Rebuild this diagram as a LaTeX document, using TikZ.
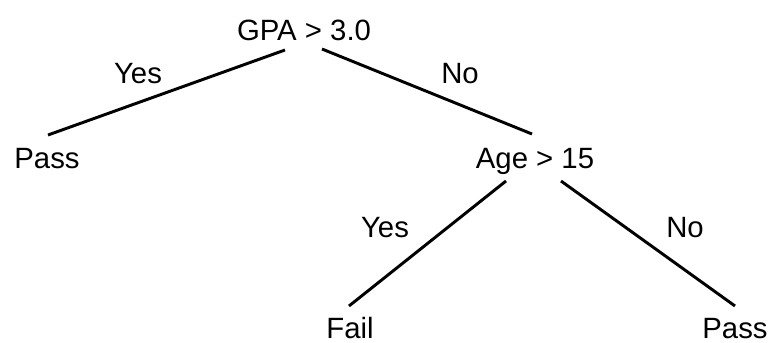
\documentclass[tikz,border=0pt]{standalone}
\usepackage{fontspec}
\setmainfont{Liberation Sans}
\usetikzlibrary{calc}

\begin{document}
\begin{tikzpicture}[x=0.75pt,y=-0.75pt,font=\fontsize{22}{26}\selectfont,
  lbl/.style={anchor=base,inner sep=0pt},
  branch/.style={line width=2.2pt}]
\useasboundingbox (0,0) rectangle (772,343);
% tests and outcomes
\node[lbl] (gpa) at (304,40) {GPA > 3.0};
\node[lbl] (passL) at (47,168) {Pass};
\node[lbl] (age) at (535,168) {Age > 15};
\node[lbl] (fail) at (350,338) {Fail};
\node[lbl] (passR) at (735,338) {Pass};
% branches
\draw[branch] ($(gpa.base)+(-19,10)$) -- ($(passL.base)+(1,-33)$);
\draw[branch] ($(gpa.base)+(18,9)$) -- ($(age.base)+(-3,-34)$);
\draw[branch] ($(age.base)+(-29,13)$) -- ($(fail.base)+(-1,-32)$);
\draw[branch] ($(age.base)+(26,13)$) -- ($(passR.base)+(0,-32)$);
% branch labels
\node[lbl] (yesA) at (138,83) {Yes};
\node[lbl] (noA) at (460,83) {No};
\node[lbl] (yesB) at (385,237) {Yes};
\node[lbl] (noB) at (685,237) {No};
\end{tikzpicture}
\end{document}
